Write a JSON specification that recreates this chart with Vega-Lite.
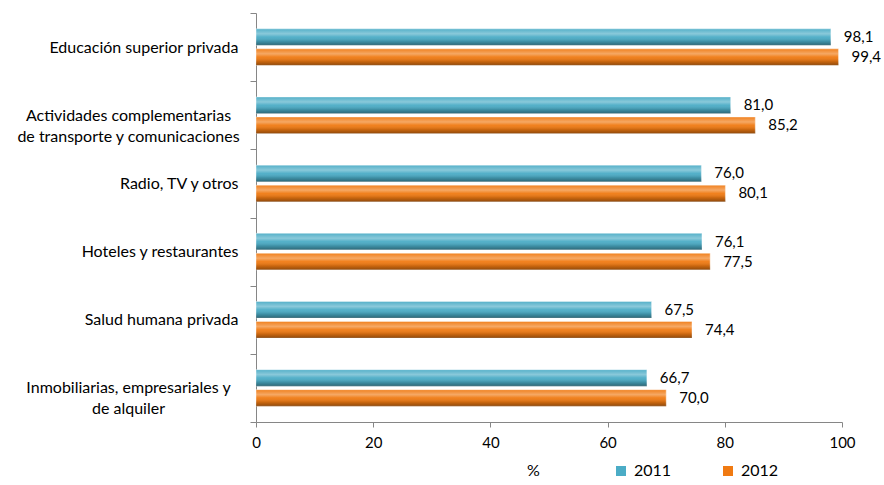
{
  "$schema": "https://vega.github.io/schema/vega-lite/v6.json",
  "width": 586,
  "height": 409,
  "autosize": {"type": "none"},
  "padding": {"left": 256, "top": 13, "right": 42, "bottom": 63},
  "background": "white",
  "config": {
    "view": {"stroke": null},
    "font": "Lato",
    "locale": {"number": {"decimal": ",", "thousands": ".", "grouping": [3], "currency": ["", " €"]}}
  },
  "data": {
    "values": [
      {"cat": "Educación superior privada", "year": "2011", "value": 98.1},
      {"cat": "Educación superior privada", "year": "2012", "value": 99.4},
      {"cat": "Actividades complementarias|de transporte y comunicaciones", "year": "2011", "value": 81.0},
      {"cat": "Actividades complementarias|de transporte y comunicaciones", "year": "2012", "value": 85.2},
      {"cat": "Radio, TV y otros", "year": "2011", "value": 76.0},
      {"cat": "Radio, TV y otros", "year": "2012", "value": 80.1},
      {"cat": "Hoteles y restaurantes", "year": "2011", "value": 76.1},
      {"cat": "Hoteles y restaurantes", "year": "2012", "value": 77.5},
      {"cat": "Salud humana privada", "year": "2011", "value": 67.5},
      {"cat": "Salud humana privada", "year": "2012", "value": 74.4},
      {"cat": "Inmobiliarias, empresariales y|de alquiler", "year": "2011", "value": 66.7},
      {"cat": "Inmobiliarias, empresariales y|de alquiler", "year": "2012", "value": 70.0}
    ]
  },
  "encoding": {
    "y": {
      "field": "cat", "type": "nominal", "sort": null,
      "scale": {"paddingInner": 0, "paddingOuter": 0},
      "axis": {
        "title": null,
        "domainColor": "#868686",
        "tickColor": "#868686",
        "tickSize": 6,
        "tickBand": "extent",
        "labelExpr": "split(datum.label, '|')",
        "labelFontSize": 16,
        "labelColor": "#000000",
        "labelLineHeight": 21,
        "labelLimit": 400,
        "labelAlign": {"condition": {"test": "test(/[|]/, datum.value)", "value": "center"}, "value": "right"},
        "labelPadding": {"condition": {"test": "test(/[|]/, datum.value)", "value": 122}, "value": 12}
      }
    },
    "yOffset": {
      "field": "year", "type": "nominal",
      "scale": {"paddingInner": 0.175, "paddingOuter": 0.79}
    },
    "x": {
      "field": "value", "type": "quantitative",
      "scale": {"domain": [0, 100], "nice": false},
      "axis": {
        "values": [0, 20, 40, 60, 80, 100],
        "grid": false,
        "domainColor": "#868686",
        "tickColor": "#868686",
        "tickSize": 5,
        "labelFontSize": 15,
        "labelColor": "#000000",
        "labelPadding": 8,
        "labelFlush": false,
        "title": "%",
        "titleFontSize": 16,
        "titleFontWeight": "normal",
        "titleColor": "#000000",
        "titleX": 277,
        "titleY": 40,
        "titleAnchor": "middle",
        "titleAlign": "center",
        "titleBaseline": "top"
      }
    }
  },
  "layer": [
    {
      "mark": {"type": "bar", "stroke": "#ffffff", "strokeOpacity": 0.5, "strokeWidth": 0.8},
      "encoding": {
        "color": {
          "field": "year", "type": "nominal",
          "scale": {"domain": ["2011", "2012"], "range": ["#4BACC6", "#F07A12"]},
          "legend": {
            "title": null,
            "orient": "none",
            "direction": "horizontal",
            "legendX": 357,
            "legendY": 450,
            "symbolType": "square",
            "symbolSize": 100,
            "symbolStrokeWidth": 0,
            "labelFontSize": 16,
            "labelColor": "#000000",
            "labelOffset": 5,
            "columnPadding": 48
          }
        }
      }
    },
    {
      "mark": {
        "type": "bar",
        "color": {
          "gradient": "linear", "x1": 0, "y1": 0, "x2": 0, "y2": 1,
          "stops": [
            {"offset": 0, "color": "rgba(255,255,255,0.05)"},
            {"offset": 0.3, "color": "rgba(255,255,255,0.35)"},
            {"offset": 0.5, "color": "rgba(255,255,255,0.05)"},
            {"offset": 0.75, "color": "rgba(0,0,0,0.15)"},
            {"offset": 1, "color": "rgba(0,0,0,0.4)"}
          ]
        }
      },
      "encoding": {}
    },
    {
      "mark": {"type": "text", "align": "left", "baseline": "middle", "dx": 13, "fontSize": 15, "color": "#000000"},
      "encoding": {
        "text": {"field": "value", "type": "quantitative", "format": ".1f"}
      }
    }
  ]
}
